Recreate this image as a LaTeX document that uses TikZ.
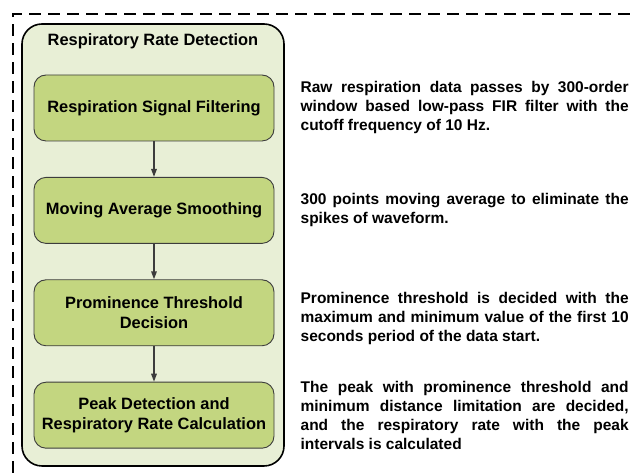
\documentclass[tikz,border=0pt]{standalone}
\usepackage{fontspec}
\setmainfont{Liberation Sans}
\usepackage{tikz}
\usetikzlibrary{arrows.meta, positioning}
\definecolor{mypale}{RGB}{232,239,214}
\definecolor{myolive}{RGB}{195,214,128}
\definecolor{mydark}{RGB}{60,60,60}
\tikzset{
  stagebox/.style={rectangle, draw=mydark, fill=myolive,
    minimum width=240pt, minimum height=66pt, align=center,
    font=\fontsize{16.4}{20}\selectfont\bfseries, rounded corners=12pt, line width=0.9pt},
  note/.style={text width=328pt, align=justify, inner sep=0pt,
    font=\fontsize{15.5}{19}\selectfont\bfseries},
  arrow/.style={-{Triangle[length=8pt,width=5.5pt]}, line width=1.5pt, color=mydark}
}

\begin{document}
\begin{tikzpicture}[x=1pt, y=1pt, node distance=35.5pt and 26pt]
  \useasboundingbox (0,0) rectangle (635,473);
  \draw[line width=1.4pt, dash pattern=on 12pt off 7pt] (13,0) -- (13,459) -- (635,459);

  \node[rectangle, draw=black, fill=mypale, line width=1.6pt, rounded corners=20pt,
    minimum width=262pt, minimum height=442pt] (frame) at (153,228) {};
  \node[font=\fontsize{16.4}{20}\selectfont\bfseries, below=7pt of frame.north] (title) {Respiratory Rate Detection};

  \node[stagebox] (filt) at (154,365) {Respiration Signal Filtering};
  \node[stagebox, below=of filt] (smooth) {Moving Average Smoothing};
  \node[stagebox, below=of smooth] (thresh) {Prominence Threshold\\Decision};
  \node[stagebox, below=of thresh] (peak) {Peak Detection and\\Respiratory Rate Calculation};

  \node[note, right=26pt of filt] (filtnote) {Raw respiration data passes by 300-order\linebreak
    window based low-pass FIR filter with the\linebreak cutoff frequency of 10 Hz.};
  \node[note, right=26pt of smooth] (smoothnote) {300 points moving average to eliminate the\linebreak
    spikes of waveform.};
  \node[note, right=26pt of thresh, yshift=-6pt] (threshnote) {Prominence threshold is decided with the\linebreak
    maximum and minimum value of the first 10\linebreak seconds period of the data start.};
  \node[note, right=26pt of peak] (peaknote) {The peak with prominence threshold and\linebreak
    minimum distance limitation are decided,\linebreak and the respiratory rate with the peak\linebreak
    intervals is calculated};

  \draw[arrow] (filt) -- (smooth);
  \draw[arrow] (smooth) -- (thresh);
  \draw[arrow] (thresh) -- (peak);
\end{tikzpicture}
\end{document}
